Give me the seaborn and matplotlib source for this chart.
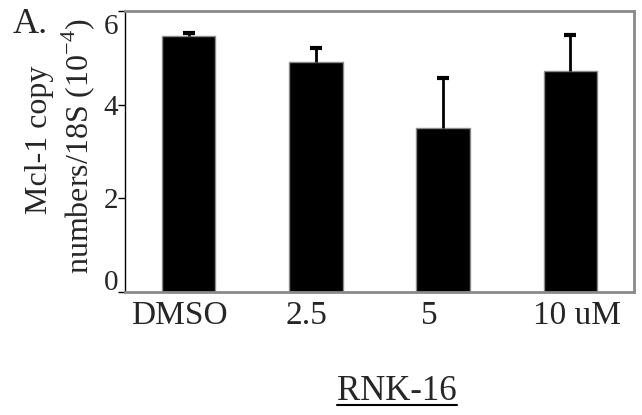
import matplotlib
matplotlib.use("Agg")
import matplotlib.pyplot as plt
from matplotlib.lines import Line2D
from matplotlib.transforms import ScaledTranslation
import seaborn as sns
import pandas as pd

# Mcl-1 copy numbers per 18S (x10^-4) in RNK-16 cells
doses = ["DMSO", "2.5", "5", "10 uM"]
means = [5.46, 4.91, 3.51, 4.72]
errors = [0.07, 0.29, 1.05, 0.77]
y_ticks = [0, 2, 4, 6]

sns.set_theme(style="white")
plt.rcParams["font.family"] = ["Liberation Serif", "DejaVu Serif"]
plt.rcParams["mathtext.fontset"] = "custom"
plt.rcParams["mathtext.rm"] = "Liberation Serif"

df = pd.DataFrame({"dose": doses, "copies": means})

fig = plt.figure(figsize=(6.42, 4.15), dpi=100)
ax = fig.add_axes([0.1947, 0.2964, 0.7928, 0.6771])

sns.barplot(data=df, x="dose", y="copies", order=doses, color="black",
            width=0.42, edgecolor="#8a8a8a", linewidth=1.0, saturation=1,
            errorbar=None, ax=ax)

# upper-only error bars: drop the cap drawn at the bar top
eb = ax.errorbar(range(len(doses)), means, yerr=[[0] * len(errors), errors],
                 fmt="none", ecolor="black", elinewidth=2, capsize=4,
                 capthick=3, zorder=3)
for cap in eb[1]:
    if list(cap.get_ydata()) == list(means):
        cap.remove()

ax.set_xlim(-0.5, 3.5)
ax.set_ylim(0, 6)
ax.set_yticks(y_ticks)
ax.set_yticklabels([str(t) for t in y_ticks], fontsize=21)
ax.tick_params(axis="y", left=True, length=5, width=1, color="black",
               direction="out", pad=0)
ax.tick_params(axis="x", bottom=False, labelsize=24, pad=0)
ax.set_xlabel("")
ax.set_ylabel("")

# keep the end labels of the value axis inside the frame
yshifts = [12, 0, 0, -13]
for lbl, dy in zip(ax.get_yticklabels(), yshifts):
    lbl.set_transform(lbl.get_transform() +
                      ScaledTranslation(0, dy / 100, fig.dpi_scale_trans))

# nudge the dose labels sideways
shifts = [-9, -9, -14, 7]
for lbl, dx in zip(ax.get_xticklabels(), shifts):
    lbl.set_transform(lbl.get_transform() +
                      ScaledTranslation(dx / 100, 0, fig.dpi_scale_trans))

for side in ["top", "right", "bottom"]:
    ax.spines[side].set_color("#8a8a8a")
    ax.spines[side].set_linewidth(2)
ax.spines["left"].set_color("black")
ax.spines["left"].set_linewidth(1)

fig.text(40 / 642, 1 - 140 / 415, "Mcl-1 copy", rotation=90,
         ha="center", va="center", fontsize=23)
fig.text(78 / 642, 1 - 146 / 415, "numbers/18S (10$^{-4}$)", rotation=90,
         ha="center", va="center", fontsize=23)

fig.text(0.019, 1 - 33 / 415, "A.", fontsize=26, ha="left", va="baseline")

title = fig.text(0.618, 1 - 400 / 415, "RNK-16", fontsize=25, ha="center",
                 va="baseline")
fig.canvas.draw()
bb = title.get_window_extent().transformed(fig.transFigure.inverted())
uy = 1 - 405 / 415
fig.add_artist(Line2D([bb.x0, bb.x1], [uy, uy], color="black",
                      linewidth=1.5, transform=fig.transFigure))

fig.savefig("out.png", dpi=100, facecolor="white")
